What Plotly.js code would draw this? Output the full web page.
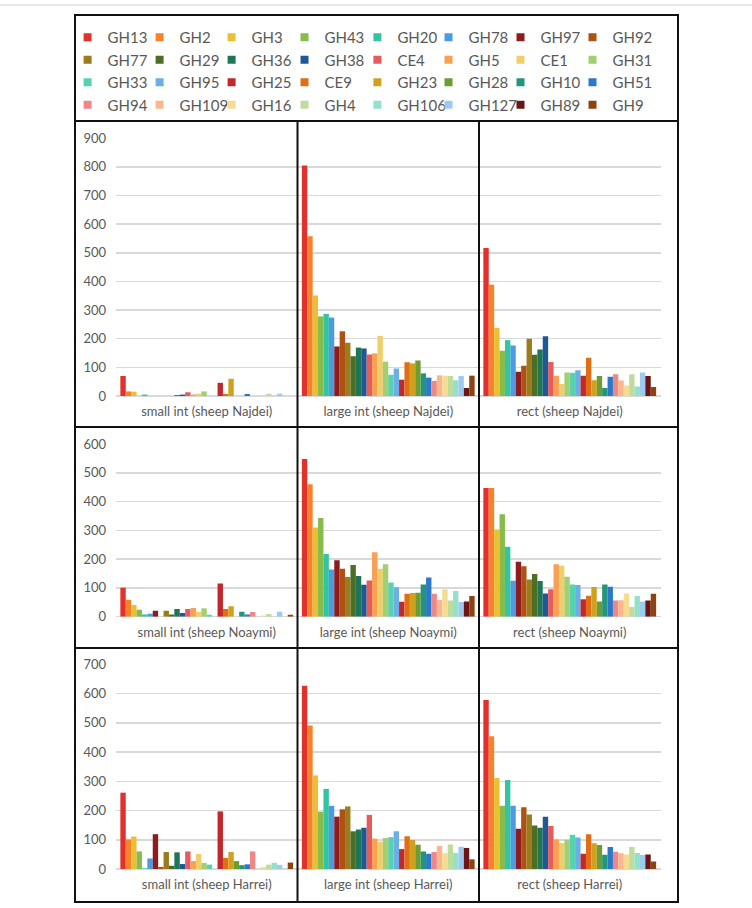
<!DOCTYPE html>
<html>
<head>
<meta charset="utf-8">
<script src="https://cdn.plot.ly/plotly-3.0.1.min.js"></script>
<style>html,body{margin:0;padding:0;background:#fff;}#chart{width:752px;height:908px;}</style>
</head>
<body>
<div id="chart"></div>
<script>
// ---- Data ----
const seriesNames = ['GH13','GH2','GH3','GH43','GH20','GH78','GH97','GH92',
  'GH77','GH29','GH36','GH38','CE4','GH5','CE1','GH31',
  'GH33','GH95','GH25','CE9','GH23','GH28','GH10','GH51',
  'GH94','GH109','GH16','GH4','GH106','GH127','GH89','GH9'];

const seriesColors = ['#E2312C','#F5832A','#ECBE33','#86BC4A','#33C4A2','#4A9BE0','#8E1B1E','#AE5214',
  '#9C7B1C','#4C6E25','#1F7656','#1F5896','#E65B5B','#F9A052','#EFCF6B','#A5CE72',
  '#57D2AF','#6CAEE8','#C1282B','#E06E14','#D0A11D','#6C9C34','#23957A','#2D79C9',
  '#EE8787','#FBB78B','#F5DC92','#BEDC9B','#93E1CB','#9FCAF0','#6D1414','#8D4311'];

const categoriesNajdei = ['small int (sheep Najdei)','large int (sheep Najdei)','rect (sheep Najdei)'];
const categoriesNoaymi = ['small int (sheep Noaymi)','large int (sheep Noaymi)','rect (sheep Noaymi)'];
const categoriesHarrei = ['small int (sheep Harrei)','large int (sheep Harrei)','rect (sheep Harrei)'];

const najdeiSmall = [70,16,15,0,5,0,0,0,0,0,3,5,13,5,8,16,0,0,46,7,60,0,0,7,0,0,0,8,0,8,0,0];
const najdeiLarge = [805,558,351,278,287,274,173,226,186,139,169,166,145,149,210,120,74,96,57,118,114,124,79,64,53,72,71,70,55,70,28,71];
const najdeiRect  = [517,389,238,158,195,176,85,106,200,144,162,209,119,71,42,82,81,90,71,134,55,70,28,67,76,54,37,76,33,82,70,31];

const noaymiSmall = [101,59,41,24,8,10,21,0,21,8,27,13,27,30,16,29,7,0,115,27,36,0,17,8,16,0,4,9,0,17,0,7];
const noaymiLarge = [548,460,310,343,218,164,196,167,138,180,141,111,126,224,167,182,119,102,52,80,82,83,112,136,80,58,95,56,89,51,53,72];
const noaymiRect  = [447,447,303,356,243,125,191,175,129,148,124,81,95,182,177,139,112,110,61,73,103,53,112,104,56,57,81,34,72,53,56,80];

const harreiSmall = [261,101,111,60,2,36,119,7,58,11,57,17,60,27,51,21,15,0,197,38,58,27,13,16,60,0,7,15,21,14,0,22];
const harreiLarge = [627,491,320,196,274,216,179,204,214,129,135,141,185,104,94,106,109,129,68,112,99,83,60,52,58,79,54,84,55,76,72,33];
const harreiRect  = [578,454,311,216,304,216,138,211,186,149,141,179,147,101,89,100,117,108,52,119,88,82,49,75,59,54,50,75,55,48,50,26];

const yTopNajdei = 900, yTopNoaymi = 600, yTopHarrei = 700;

// ---- Layout helpers (pixel -> paper) ----
const W = 752, H = 908, ML = 72, MR = 74;
const PW = W - ML - MR;
const px = v => (v - ML) / PW;
const py = v => 1 - v / H;

const rows = [
  {cats: categoriesNajdei, s: najdeiSmall, l: najdeiLarge, r: najdeiRect, top: yTopNajdei, yDom: [py(396), py(138.3)], bTop: 121, bBot: 427},
  {cats: categoriesNoaymi, s: noaymiSmall, l: noaymiLarge, r: noaymiRect, top: yTopNoaymi, yDom: [py(616.7), py(444)], bTop: 427, bBot: 648},
  {cats: categoriesHarrei, s: harreiSmall, l: harreiLarge, r: harreiRect, top: yTopHarrei, yDom: [py(869), py(664.3)], bTop: 648, bBot: 902}
];

const FONT = 'Lato, "Open Sans", sans-serif';
const GRAY = '#595959';
const NCOL = 8;
const legendColCenters = [97.6, 169.6, 241.6, 314.5, 387.4, 458.5, 530.5, 602.5];
const legendKey = k => k === 0 ? 'legend' : 'legend' + (k + 1);

const traces = [];
// legend entries (one vertical legend per column)
seriesNames.forEach((n, i) => {
  traces.push({type: 'scatter', mode: 'markers', x: [null], y: [null], xaxis: 'x', yaxis: 'y',
    name: n, legendgroup: n, showlegend: true, legend: legendKey(i % NCOL), hoverinfo: 'skip',
    marker: {symbol: 'square', size: 8, color: seriesColors[i]}});
});
rows.forEach((row, r) => {
  const xa = r === 0 ? 'x' : 'x' + (r + 1);
  const ya = r === 0 ? 'y' : 'y' + (r + 1);
  seriesNames.forEach((n, i) => {
    traces.push({type: 'bar', x: row.cats, y: [row.s[i], row.l[i], row.r[i]],
      xaxis: xa, yaxis: ya, name: n, legendgroup: n, showlegend: false,
      marker: {color: seriesColors[i], line: {width: 0}}});
  });
});

const layout = {
  width: W, height: H,
  margin: {l: ML, r: MR, t: 0, b: 0},
  paper_bgcolor: '#fff', plot_bgcolor: '#fff',
  font: {family: FONT, color: GRAY},
  barmode: 'group', bargap: 0.048, bargroupgap: 0,
  showlegend: true,
  shapes: []
};
for (let k = 0; k < NCOL; k++) {
  layout[legendKey(k)] = {orientation: 'v', x: px(legendColCenters[k] - 30), xanchor: 'left',
    y: py(21), yanchor: 'top', itemwidth: 30, traceorder: 'normal', tracegroupgap: 0,
    font: {family: FONT, size: 15, color: GRAY}, bgcolor: 'rgba(0,0,0,0)', borderwidth: 0};
}

rows.forEach((row, r) => {
  const xk = r === 0 ? 'xaxis' : 'xaxis' + (r + 1);
  const yk = r === 0 ? 'yaxis' : 'yaxis' + (r + 1);
  const xa = r === 0 ? 'x' : 'x' + (r + 1);
  const ya = r === 0 ? 'y' : 'y' + (r + 1);
  layout[xk] = {domain: [px(116), px(660.5)], anchor: ya, type: 'category',
    categoryorder: 'array', categoryarray: row.cats,
    showgrid: false, zeroline: false, showline: false, ticks: '',
    ticklabelstandoff: 6, tickfont: {family: FONT, size: 13, color: GRAY}};
  layout[yk] = {domain: row.yDom, anchor: xa, range: [0, row.top], dtick: 100,
    showgrid: true, gridcolor: '#D9D9D9', gridwidth: 1.5,
    zeroline: true, zerolinecolor: '#D9D9D9', zerolinewidth: 1.5, showline: false, ticks: '',
    ticklabelstandoff: 9, tickfont: {family: FONT, size: 13, color: GRAY}};
  // category separators
  [0.5, 1.5].forEach(xv => {
    layout.shapes.push({type: 'line', xref: xa, yref: 'paper', x0: xv, x1: xv,
      y0: py(row.bTop), y1: py(row.bBot), line: {color: '#111', width: 2}});
  });
});

// frame
layout.shapes.push({type: 'rect', xref: 'paper', yref: 'paper', x0: px(75), x1: px(678), y0: py(15), y1: py(902),
  line: {color: '#111', width: 2}, fillcolor: 'rgba(0,0,0,0)'});
[121, 427, 648].forEach(v => layout.shapes.push({type: 'line', xref: 'paper', yref: 'paper',
  x0: px(75), x1: px(678), y0: py(v), y1: py(v), line: {color: '#111', width: 2}}));
layout.shapes.push({type: 'line', xref: 'paper', yref: 'paper', x0: px(0), x1: px(752), y0: py(5), y1: py(5),
  line: {color: '#CFCFCF', width: 1}});

Plotly.newPlot('chart', traces, layout, {displayModeBar: false, staticPlot: true});
</script>
</body>
</html>
